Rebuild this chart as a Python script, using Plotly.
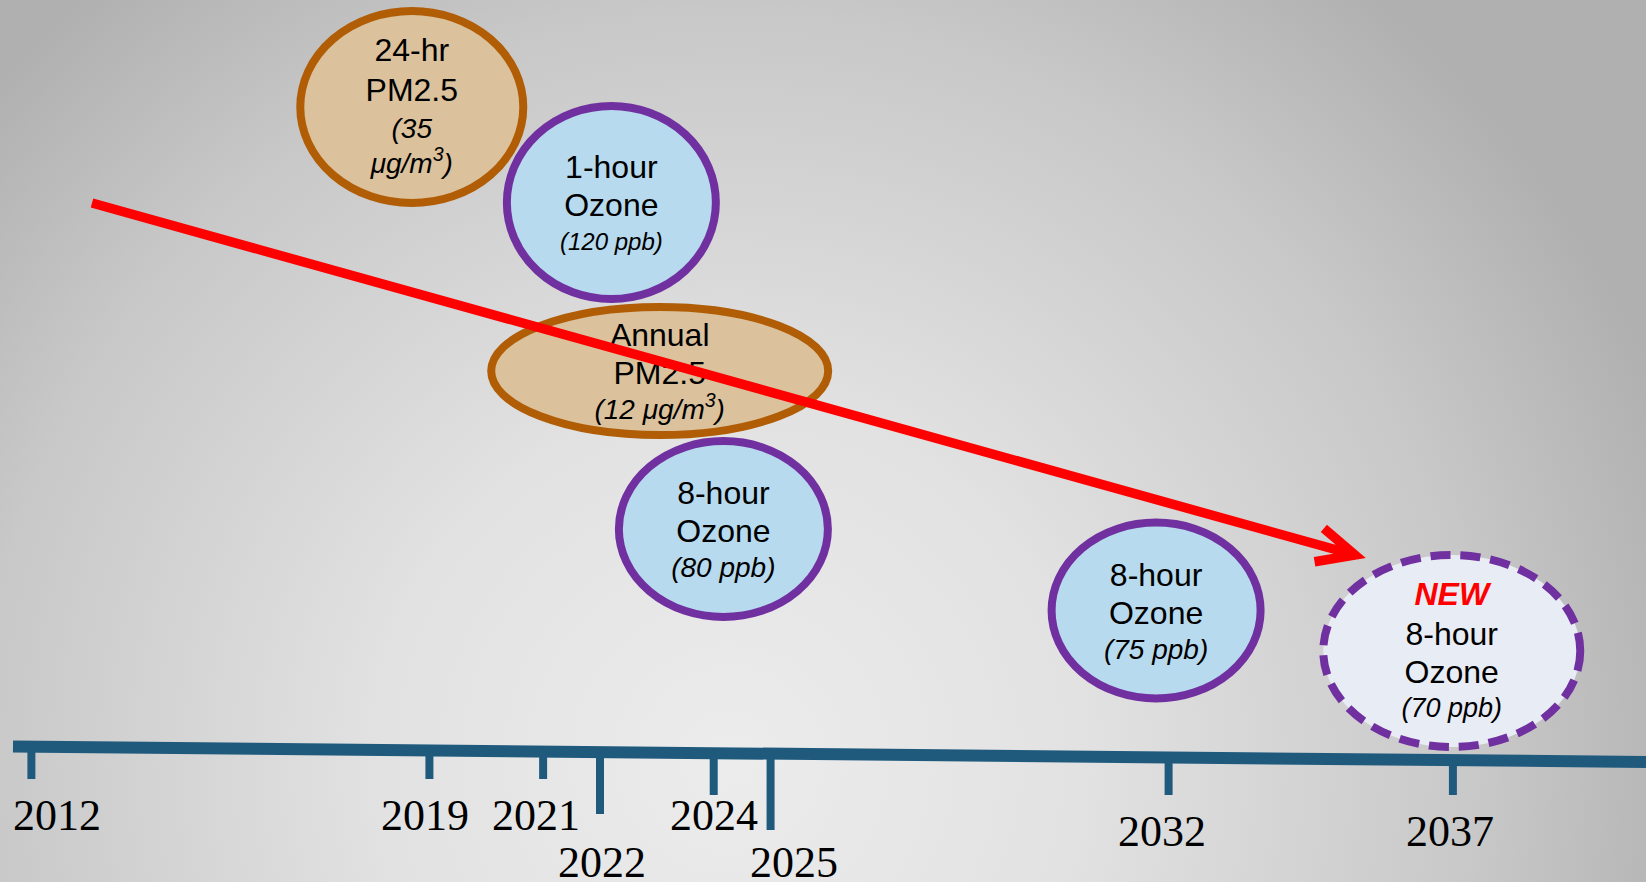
import base64
import math
import plotly.graph_objects as go

# ---------------- data ----------------
tick_years = [2012, 2019, 2021, 2022, 2024, 2025, 2032, 2037]
tick_labels = ["2012", "2019", "2021", "2022", "2024", "2025", "2032", "2037"]

standard_names = [["24-hr", "PM2.5"], ["1-hour", "Ozone"], ["Annual", "PM2.5"],
                  ["8-hour", "Ozone"], ["8-hour", "Ozone"], ["8-hour", "Ozone"]]
standard_levels = [["(35", "μg/m<sup>3</sup>)"], ["(120 ppb)"], ["(12 μg/m<sup>3</sup>)"],
                   ["(80 ppb)"], ["(75 ppb)"], ["(70 ppb)"]]
standard_kind = ["pm", "ozone", "pm", "ozone", "ozone", "new"]
bubble_year = [2018.69, 2022.20, 2023.05, 2024.17, 2031.78, 2036.98]

# ---------------- layout / style ----------------
W, H = 1646, 882
X0, X1 = 2011.448, 2040.396          # x axis (years) spanning the canvas
PX_PER_YEAR = W / (X1 - X0)

def dx(px):
    return px / PX_PER_YEAR

bubble_cy = [107, 202.5, 371, 529, 610.5, 651]
bubble_rx = [111.5, 104.5, 168.5, 104.5, 104.5, 128.5]
bubble_ry = [96, 96.5, 64, 88, 88, 96]
level_size = [28, 24, 28, 28, 28, 27]

kind_style = {
    "pm": dict(fill="#dbc19c", line="#b15d05", dash="solid"),
    "ozone": dict(fill="#b7daee", line="#7030a0", dash="solid"),
    "new": dict(fill="#e8ecf4", line="#7030a0", dash="20px,10px"),
}

tick_bottom = [779, 779, 779, 814, 795, 830, 795, 795]
label_y = [815, 815, 815, 862, 815, 862, 831, 831]
label_shift = [26, -4, -7, 2, 0, 23, -7, -3]

bar_color = "#1f5a7d"
bar_start = X0 + dx(13)
bar_y0, bar_y1 = 746.5, 762.0

def bar_y(x):
    return bar_y0 + (bar_y1 - bar_y0) * (x - bar_start) / (X1 - bar_start)

shapes = []

# bubbles
for cx, cy, rx, ry, kind in zip(bubble_year, bubble_cy, bubble_rx, bubble_ry, standard_kind):
    st = kind_style[kind]
    shapes.append(dict(type="circle", xref="x", yref="y", layer="below",
                       x0=cx - dx(rx), x1=cx + dx(rx), y0=cy - ry, y1=cy + ry,
                       fillcolor=st["fill"], line=dict(color=st["line"], width=8, dash=st["dash"])))

# timeline bar
shapes.append(dict(type="line", xref="x", yref="y", layer="below",
                   x0=bar_start, x1=X1, y0=bar_y0, y1=bar_y1,
                   line=dict(color=bar_color, width=12)))
# ticks
for yr, yb in zip(tick_years, tick_bottom):
    shapes.append(dict(type="line", xref="x", yref="y", layer="below",
                       x0=yr, x1=yr, y0=bar_y(yr), y1=yb,
                       line=dict(color=bar_color, width=8)))

# red arrow
ax0, ay0 = X0 + dx(92), 203
ax1, ay1 = X0 + dx(1355), 555
vx, vy = (ax0 - ax1) * PX_PER_YEAR, (ay0 - ay1)
L = math.hypot(vx, vy)
ux, uy = vx / L, vy / L
arm = 41
pts = []
for ang in (25, -25):
    a = math.radians(ang)
    rx_ = ux * math.cos(a) - uy * math.sin(a)
    ry_ = ux * math.sin(a) + uy * math.cos(a)
    pts.append((ax1 + dx(rx_ * arm), ay1 + ry_ * arm))
path = (f"M{ax0},{ay0} L{ax1},{ay1} "
        f"M{pts[0][0]},{pts[0][1]} L{ax1},{ay1} L{pts[1][0]},{pts[1][1]}")
shapes.append(dict(type="path", xref="x", yref="y", layer="above", path=path,
                   line=dict(color="#ff0000", width=9.5)))

fig = go.Figure()

# bubble texts
fam = "Liberation Sans, Arial, sans-serif"
offsets = {3: [-33, 5, 41], 4: [-54, -14, 24, 59]}
tx, ty, tt, ts, tc = [], [], [], [], []
for cx, cy, names, levels, kind, lsz in zip(bubble_year, bubble_cy, standard_names,
                                            standard_levels, standard_kind, level_size):
    lines = []
    if kind == "new":
        lines.append(("<b><i>NEW</i></b>", 32, "#ff0000"))
    lines += [(n, 32, "#000000") for n in names]
    lines += [("<i>" + l + "</i>", lsz, "#000000") for l in levels]
    for (t, s, c), o in zip(lines, offsets[len(lines)]):
        tx.append(cx); ty.append(cy + o); tt.append(t); ts.append(s); tc.append(c)

fig.add_trace(go.Scatter(x=tx, y=ty, text=tt, mode="text", textposition="middle center",
                         textfont=dict(family=fam, size=ts, color=tc), hoverinfo="skip"))

# year labels
annotations = []
for yr, lab, ly, sh in zip(tick_years, tick_labels, label_y, label_shift):
    annotations.append(dict(x=yr, y=ly, xref="x", yref="y", text=lab, showarrow=False,
                            xshift=sh, xanchor="center", yanchor="middle",
                            font=dict(family="Liberation Serif, Times New Roman, serif", size=44, color="#000000")))

# background gradient
svg = (f'<svg xmlns="http://www.w3.org/2000/svg" width="{W}" height="{H}" viewBox="0 0 {W} {H}" '
       f'preserveAspectRatio="none"><defs><radialGradient id="g" gradientUnits="userSpaceOnUse" '
       f'cx="730" cy="760" r="1000">'
       f'<stop offset="0" stop-color="#ececec"/><stop offset="0.35" stop-color="#e2e2e2"/>'
       f'<stop offset="0.75" stop-color="#c8c8c8"/><stop offset="1" stop-color="#b0b0b0"/>'
       f'</radialGradient></defs><rect width="{W}" height="{H}" fill="url(#g)"/></svg>')
src = "data:image/svg+xml;base64," + base64.b64encode(svg.encode("utf-8")).decode("ascii")

fig.update_layout(
    width=W, height=H,
    margin=dict(l=0, r=0, t=0, b=0),
    paper_bgcolor="rgba(0,0,0,0)", plot_bgcolor="rgba(0,0,0,0)",
    showlegend=False, hovermode=False,
    xaxis=dict(range=[X0, X1], visible=False, showgrid=False, zeroline=False, fixedrange=True),
    yaxis=dict(range=[H, 0], visible=False, showgrid=False, zeroline=False, fixedrange=True),
    shapes=shapes, annotations=annotations,
    images=[dict(source=src, xref="paper", yref="paper", x=0, y=1, sizex=1, sizey=1,
                 xanchor="left", yanchor="top", sizing="stretch", layer="below")],
)

fig.write_html("out.html", config=dict(displayModeBar=False),
               post_script="document.body.style.margin='0';document.body.style.overflow='hidden';")
